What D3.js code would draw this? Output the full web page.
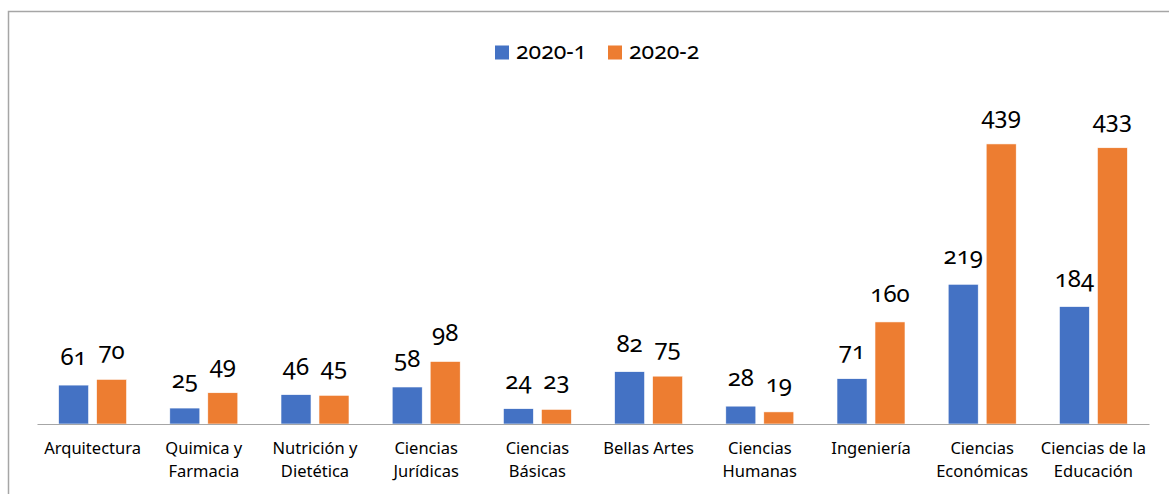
<!DOCTYPE html>
<html><head><meta charset="utf-8">
<script src="https://cdn.jsdelivr.net/npm/d3@7"></script>
<style>
body{margin:0;background:#fff;}
svg text{font-family:"Noto Sans","Open Sans",sans-serif;fill:#000;}
.num{font-variant-numeric:oldstyle-nums;font-feature-settings:"onum" 1;}
</style></head>
<body><svg id="c" width="1169" height="494"></svg>
<script>
const categories = [["Arquitectura"],["Quimica y","Farmacia"],["Nutrición y","Dietética"],["Ciencias","Jurídicas"],["Ciencias","Básicas"],["Bellas Artes"],["Ciencias","Humanas"],["Ingeniería"],["Ciencias","Económicas"],["Ciencias de la","Educación"]];
const series = ["2020-1","2020-2"];
const values2020_1 = [61,25,46,58,24,82,28,71,219,184];
const values2020_2 = [70,49,45,98,23,75,19,160,439,433];
const colors = ["#4472C4","#ED7D31"];

const svg = d3.select("#c");
svg.append("rect").attr("x",8.5).attr("y",11.5).attr("width",1200).attr("height",600)
  .attr("fill","none").attr("stroke","#A6A6A6").attr("stroke-width",1.5);

const x = d3.scaleBand().domain(d3.range(categories.length)).range([37,1149]);
const xs = d3.scaleBand().domain(series).range([x.bandwidth()/2-34, x.bandwidth()/2+34]).paddingInner(0.21);
const y = d3.scaleLinear().domain([0,500]).range([424,105]);

const data = [values2020_1, values2020_2];
const g = svg.append("g");
categories.forEach((c,i)=>{
  series.forEach((s,j)=>{
    const v = data[j][i];
    const bx = x(i)+xs(s);
    g.append("rect").attr("x",bx).attr("y",y(v)).attr("width",xs.bandwidth()).attr("height",y(0)-y(v))
      .attr("fill",colors[j]).attr("stroke","#fff").attr("stroke-width",0.6);
    g.append("text").attr("class","num").attr("x",bx+xs.bandwidth()/2).attr("y",y(v)-20)
      .attr("text-anchor","middle").attr("font-size",24).text(v);
  });
});

const ax = svg.append("g").attr("transform","translate(0,424)")
  .call(d3.axisBottom(x).tickSize(0).tickFormat(""));
ax.select(".domain").attr("stroke","#A6A6A6").attr("stroke-width",1.2);

categories.forEach((c,i)=>{
  const t = svg.append("text").attr("x",x(i)+x.bandwidth()/2).attr("y",454)
    .attr("text-anchor","middle").attr("font-size",16.5);
  c.forEach((line,k)=>t.append("tspan").attr("x",x(i)+x.bandwidth()/2).attr("dy",k?23:0).text(line));
});

// legend
const leg = [{x:495,tx:516},{x:608,tx:629}];
series.forEach((s,j)=>{
  svg.append("rect").attr("x",leg[j].x).attr("y",45.5).attr("width",14).attr("height",14).attr("fill",colors[j]);
  svg.append("text").attr("class","num").attr("x",leg[j].tx).attr("y",59).attr("font-size",23).text(s);
});
</script></body></html>
